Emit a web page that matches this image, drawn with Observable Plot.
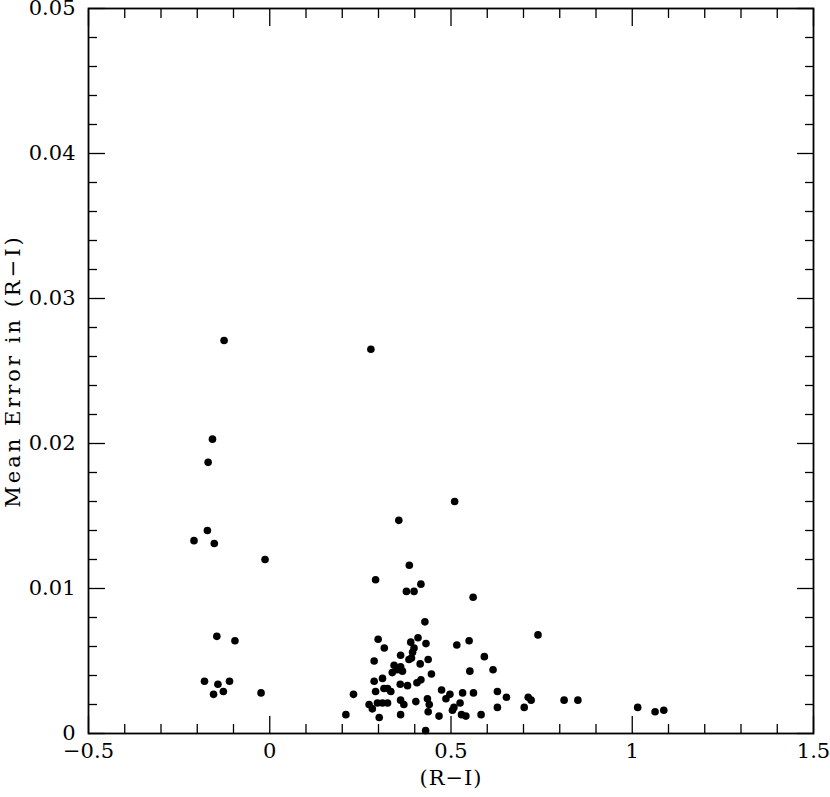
<!DOCTYPE html>
<html><head><meta charset="utf-8">
<script src="https://cdn.jsdelivr.net/npm/d3@7"></script>
<script src="https://cdn.jsdelivr.net/npm/@observablehq/plot@0.6"></script>
<style>
body{margin:0;background:#fff}
g[aria-label="y-axis label"] text{letter-spacing:3px}
g[aria-label="x-axis label"] text{letter-spacing:1px}
</style>
</head><body><div id="chart"></div>
<script>
// (R−I) colour index of each star
const ri = [
  -0.126, -0.158, -0.170, -0.172, -0.209, -0.153, -0.013, -0.146, -0.096, -0.180,
  -0.143, -0.111, -0.155, -0.128, -0.024,
  0.279, 0.510, 0.356, 0.385, 0.292, 0.417, 0.377, 0.398, 0.561, 0.428,
  0.740, 0.299, 0.409, 0.389, 0.431, 0.316, 0.398, 0.516, 0.550, 0.394,
  0.391, 0.361, 0.592, 0.288, 0.384, 0.415, 0.437, 0.343, 0.352, 0.361,
  0.338, 0.366, 0.446, 0.616, 0.552, 0.288, 0.311, 0.360, 0.380, 0.406,
  0.417, 0.292, 0.315, 0.334, 0.474, 0.231, 0.297, 0.311, 0.325, 0.274,
  0.283, 0.361, 0.370, 0.403, 0.435, 0.440, 0.437, 0.486, 0.497, 0.210,
  0.302, 0.361, 0.467, 0.430, 0.525, 0.508, 0.504, 0.529, 0.541, 0.583,
  0.532, 0.562, 0.628, 0.653, 0.713, 0.721, 0.628, 0.702, 0.812, 0.850,
  1.015, 1.063, 1.087, 0.325
];
// mean error in (R−I)
const err = [
  0.0271, 0.0203, 0.0187, 0.0140, 0.0133, 0.0131, 0.0120, 0.0067, 0.0064, 0.0036,
  0.0034, 0.0036, 0.0027, 0.0029, 0.0028,
  0.0265, 0.0160, 0.0147, 0.0116, 0.0106, 0.0103, 0.0098, 0.0098, 0.0094, 0.0077,
  0.0068, 0.0065, 0.0066, 0.0063, 0.0062, 0.0059, 0.0059, 0.0061, 0.0064, 0.0056,
  0.0052, 0.0054, 0.0053, 0.0050, 0.0051, 0.0048, 0.0051, 0.0047, 0.0044, 0.0046,
  0.0042, 0.0043, 0.0041, 0.0044, 0.0043, 0.0036, 0.0038, 0.0034, 0.0033, 0.0035,
  0.0037, 0.0029, 0.0031, 0.0029, 0.0030, 0.0027, 0.0021, 0.0021, 0.0021, 0.0020,
  0.0017, 0.0023, 0.0020, 0.0022, 0.0024, 0.0020, 0.0015, 0.0024, 0.0027, 0.0013,
  0.0011, 0.0013, 0.0012, 0.0002, 0.0021, 0.0018, 0.0016, 0.0013, 0.0012, 0.0013,
  0.0028, 0.0028, 0.0029, 0.0025, 0.0025, 0.0023, 0.0018, 0.0018, 0.0023, 0.0023,
  0.0018, 0.0015, 0.0016, 0.0031
];
const xMajor = [-0.5, 0, 0.5, 1, 1.5];
const xMinor = [-0.4, -0.3, -0.2, -0.1, 0.1, 0.2, 0.3, 0.4, 0.6, 0.7, 0.8, 0.9, 1.1, 1.2, 1.3, 1.4];
const yMajor = [0, 0.01, 0.02, 0.03, 0.04, 0.05];
const yMinor = [0.002, 0.004, 0.006, 0.008, 0.012, 0.014, 0.016, 0.018, 0.022, 0.024, 0.026, 0.028,
                0.032, 0.034, 0.036, 0.038, 0.042, 0.044, 0.046, 0.048];

const data = ri.map((x, i) => ({x, y: err[i]}));
const blank = () => "";
const fmt = d3.format("~g");
const tw = 1.3;

const chart = Plot.plot({
  width: 830, height: 797,
  marginLeft: 88, marginRight: 17, marginTop: 8, marginBottom: 64,
  x: {domain: [-0.5, 1.5]},
  y: {domain: [0, 0.05]},
  style: {fontFamily: "DejaVu Serif", fontSize: "21px", color: "#000", background: "#fff"},
  marks: [
    Plot.axisX({anchor: "bottom", ticks: xMinor, tickSize: -9, tickFormat: blank, label: null, strokeWidth: tw}),
    Plot.axisX({anchor: "top", ticks: xMinor, tickSize: -9, tickFormat: blank, label: null, strokeWidth: tw}),
    Plot.axisX({anchor: "top", ticks: xMajor, tickSize: -17, tickFormat: blank, label: null, strokeWidth: tw}),
    Plot.axisX({anchor: "bottom", ticks: xMajor, tickSize: -17, tickPadding: 27, tickFormat: fmt, strokeWidth: tw,
                label: "(R−I)", labelAnchor: "center", labelArrow: "none", labelOffset: 51}),
    Plot.axisY({anchor: "left", ticks: yMinor, tickSize: -9, tickFormat: blank, label: null, strokeWidth: tw}),
    Plot.axisY({anchor: "right", ticks: yMinor, tickSize: -9, tickFormat: blank, label: null, strokeWidth: tw}),
    Plot.axisY({anchor: "right", ticks: yMajor, tickSize: -17, tickFormat: blank, label: null, strokeWidth: tw}),
    Plot.axisY({anchor: "left", ticks: yMajor, tickSize: -17, tickPadding: 30, tickFormat: fmt, strokeWidth: tw,
                label: "Mean Error in (R−I)", labelAnchor: "center", labelArrow: "none", labelOffset: 83}),
    Plot.frame({stroke: "#000", strokeWidth: 1.8}),
    Plot.dot(data, {x: "x", y: "y", r: 3.8, fill: "#000", stroke: "none"})
  ]
});
document.getElementById("chart").appendChild(chart);
</script>
</body></html>
